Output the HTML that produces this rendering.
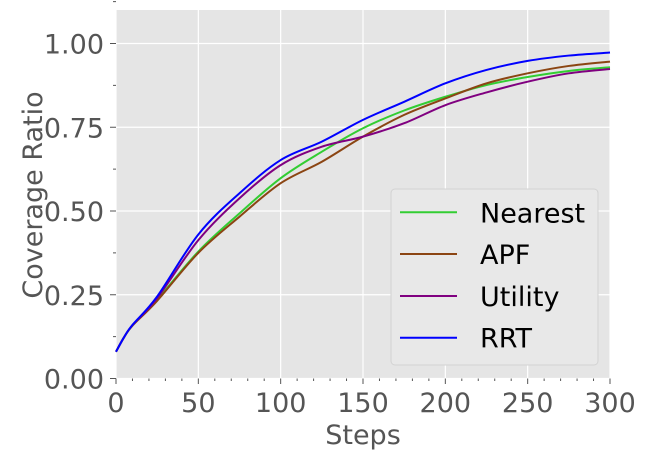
<!DOCTYPE html>
<html><head><meta charset="utf-8"><style>
body{margin:0;background:#fff;}
svg{font-family:"DejaVu Sans","Liberation Sans",sans-serif;}
</style></head><body>
<svg width="648" height="460">
<rect x="116" y="10" width="494" height="368.5" fill="#e5e5e5"/>
<g id="grid"></g><g id="ticks"></g><g id="series"></g>
<text x="363" y="444" font-size="27" fill="#555" text-anchor="middle">Steps</text>
<text transform="translate(42,195) rotate(-90)" font-size="27" fill="#555" text-anchor="middle">Coverage Ratio</text>
<g>
<rect x="391" y="189" width="207" height="176" rx="4" fill="#e8e8e8" stroke="#d2d2d2"/>
<g id="legend"></g>
</g>
</svg>
<script>
const steps=[0,5,10,25,50,75,100,125,150,175,200,225,250,275,300];
const nearest=[0.08,0.124,0.158,0.235,0.379,0.493,0.598,0.677,0.747,0.80,0.841,0.876,0.90,0.918,0.929];
const apf=[0.08,0.124,0.158,0.232,0.375,0.483,0.583,0.647,0.722,0.787,0.836,0.881,0.911,0.933,0.946];
const utility=[0.08,0.124,0.159,0.24,0.413,0.538,0.637,0.692,0.722,0.762,0.816,0.854,0.886,0.911,0.924];
const rrt=[0.08,0.124,0.16,0.245,0.43,0.553,0.652,0.707,0.772,0.826,0.881,0.921,0.948,0.964,0.973];
const seriesNames=["Nearest","APF","Utility","RRT"];
const xTicks=[0,50,100,150,200,250,300];
const yTicks=[0,0.25,0.5,0.75,1.0];
const yTickLabels=["0.00","0.25","0.50","0.75","1.00"];
const colors=["#32cd32","#8b4513","#800080","#0000ff"];
const NS="http://www.w3.org/2000/svg";
const X=v=>116+v/300*494;
const Y=v=>378.5-v*335;
function mk(tag,attrs,parent){const e=document.createElementNS(NS,tag);for(const k in attrs)e.setAttribute(k,attrs[k]);parent.appendChild(e);return e;}
const grid=document.getElementById('grid'),ticks=document.getElementById('ticks');
xTicks.forEach(t=>{
 const l=mk('line',{x1:X(t),x2:X(t),y1:10,y2:378.5,stroke:'#fff','stroke-width':1.2},grid);
 
 
 const tx=mk('text',{x:X(t),y:412,'font-size':27,fill:'#555','text-anchor':'middle'},ticks);
 tx.textContent=t;
 
 
 mk('line',{x1:X(t),x2:X(t),y1:378.5,y2:384,stroke:'#555'},ticks);
});
for(let t=10;t<300;t+=10){if(t%50)mk('line',{x1:X(t),x2:X(t),y1:378.5,y2:381,stroke:'#555'},ticks);}
yTicks.forEach((t,i)=>{
 const l=mk('line',{x1:116,x2:610,y1:Y(t),y2:Y(t),stroke:'#fff','stroke-width':1.2},grid);
 
 
 const tx=mk('text',{x:104,y:Y(t)+10,'font-size':27,fill:'#555','text-anchor':'end'},ticks);
 tx.textContent=yTickLabels[i];
 
 
 mk('line',{x1:110,x2:116,y1:Y(t),y2:Y(t),stroke:'#555'},ticks);
 mk('line',{x1:113,x2:116,y1:Y(t+0.125),y2:Y(t+0.125),stroke:'#555'},ticks);
});
function path(vals){
 const p=steps.map((s,i)=>[X(s),Y(vals[i])]);
 let d='M'+p[0][0]+','+p[0][1];
 for(let i=0;i<p.length-1;i++){
  const p0=p[Math.max(0,i-1)],p1=p[i],p2=p[i+1],p3=p[Math.min(p.length-1,i+2)];
  const c1=[p1[0]+(p2[0]-p0[0])/6,p1[1]+(p2[1]-p0[1])/6];
  const c2=[p2[0]-(p3[0]-p1[0])/6,p2[1]-(p3[1]-p1[1])/6];
  d+=' C'+c1+' '+c2+' '+p2;
 }
 return d;
}
const sg=document.getElementById('series');
[nearest,apf,utility,rrt].forEach((vals,i)=>{
 const pth=mk('path',{d:path(vals),fill:'none',stroke:colors[i],'stroke-width':2},sg);
 
 
});
const lg=document.getElementById('legend');
const rowY=[212.3,254,296,337.7];
seriesNames.forEach((n,i)=>{
 const l=mk('line',{x1:400,x2:457,y1:rowY[i],y2:rowY[i],stroke:colors[i],'stroke-width':2},lg);
 
 
 const t=mk('text',{x:480,y:rowY[i]+10,'font-size':27,fill:'#000'},lg);
 t.textContent=n;
 
 
});
</script>
</body></html>
